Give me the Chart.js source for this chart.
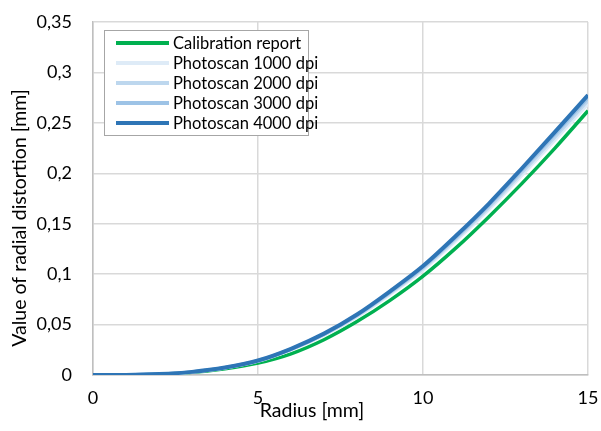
<!DOCTYPE html>
<html>
<head>
<meta charset="utf-8">
<script src="https://cdn.jsdelivr.net/npm/chart.js@4/dist/chart.umd.min.js"></script>
<style>
  html, body { margin: 0; padding: 0; background: #fff; }
  #wrap { width: 601px; height: 431px; }
</style>
</head>
<body>
<div id="wrap"><canvas id="chartDist" width="601" height="431"></canvas></div>
<script>
// radio en mm y distorsión
const radius = [0, 1, 2, 3, 4, 5, 6, 7, 8, 9, 10, 11, 12, 13, 14, 15];
const calibration = [0, 0.0001, 0.0008, 0.0026, 0.0062, 0.0118, 0.021, 0.035, 0.053, 0.074, 0.098, 0.126, 0.157, 0.190, 0.225, 0.262];
const scan1000 = [0, 0.0001, 0.0009, 0.0030, 0.0071, 0.0138, 0.0250, 0.0395, 0.0578, 0.0801, 0.1043, 0.1333, 0.1643, 0.1982, 0.2331, 0.2688];
const scan2000 = [0, 0.0001, 0.0009, 0.0030, 0.0072, 0.0140, 0.0254, 0.0401, 0.0587, 0.0813, 0.1058, 0.1352, 0.1666, 0.2009, 0.2362, 0.2722];
const scan3000 = [0, 0.0001, 0.0009, 0.0031, 0.0073, 0.0142, 0.0257, 0.0406, 0.0594, 0.0822, 0.1070, 0.1367, 0.1684, 0.2031, 0.2388, 0.2750];
const scan4000 = [0, 0.0001, 0.0009, 0.0031, 0.0074, 0.0144, 0.0260, 0.0410, 0.0600, 0.0830, 0.1080, 0.1380, 0.1700, 0.2050, 0.2410, 0.2775];
const yTickLabels = ['0', '0,05', '0,1', '0,15', '0,2', '0,25', '0,3', '0,35'];
const xTickLabels = ['0', '5', '10', '15'];

const FONT = 'Lato, "Open Sans", sans-serif';

const toPoints = (arr) => arr.map((v, i) => ({ x: radius[i], y: v }));

const series = [
    { label: 'Calibration report', data: calibration, color: '#00B050' },
    { label: 'Photoscan 1000 dpi', data: scan1000, color: '#DEEBF7' },
    { label: 'Photoscan 2000 dpi', data: scan2000, color: '#BDD7EE' },
    { label: 'Photoscan 3000 dpi', data: scan3000, color: '#9DC3E6' },
    { label: 'Photoscan 4000 dpi', data: scan4000, color: '#2E75B6' }
];

// leyenda dentro del área del gráfico + títulos de ejes
const boxLegend = {
    id: 'boxLegend',
    afterDraw(chart) {
        const ctx = chart.ctx;
        ctx.save();
        ctx.fillStyle = '#fff';
        ctx.fillRect(104.5, 30.5, 204, 105);
        ctx.strokeStyle = '#a6a6a6';
        ctx.lineWidth = 1;
        ctx.strokeRect(104.5, 30.5, 204, 105);
        ctx.font = '16.5px ' + FONT;
        ctx.textBaseline = 'middle';
        chart.data.datasets.forEach((ds, i) => {
            const y = 43 + i * 20;
            ctx.strokeStyle = ds.borderColor;
            ctx.lineWidth = 4;
            ctx.beginPath();
            ctx.moveTo(116, y);
            ctx.lineTo(169, y);
            ctx.stroke();
            ctx.fillStyle = '#000';
            ctx.fillText(ds.label, 173, y + 1);
        });

        ctx.fillStyle = '#000';
        ctx.font = '19.5px ' + FONT;
        ctx.textAlign = 'center';
        ctx.textBaseline = 'middle';
        ctx.fillText('Radius [mm]', 312, 411);
        ctx.translate(20, 218);
        ctx.rotate(-Math.PI / 2);
        ctx.fillText('Value of radial distortion [mm]', 0, 0);
        ctx.restore();
    }
};

const chartDist = new Chart(document.getElementById('chartDist').getContext('2d'), {
    type: 'line',
    data: {
        datasets: series.map((s, i) => ({
            label: s.label,
            data: toPoints(s.data),
            borderColor: s.color,
            backgroundColor: s.color,
            borderWidth: i === 4 ? 4 : 3.5,
            pointRadius: 0,
            cubicInterpolationMode: 'monotone',
            order: 5 - i
        }))
    },
    options: {
        responsive: false,
        animation: false,
        layout: { padding: { top: 22, right: 13, left: 0, bottom: 0 } },
        plugins: { legend: { display: false }, tooltip: { enabled: false } },
        scales: {
            x: {
                type: 'linear',
                min: 0,
                max: 15,
                afterFit: (s) => { s.height = 56; s.paddingRight = 0; s.paddingLeft = 0; },
                afterBuildTicks: (s) => { s.ticks = xTickLabels.map(Number).map(v => ({ value: v })); },
                ticks: {
                    padding: 12,
                    color: '#000',
                    font: { family: FONT, size: 18 },
                    maxRotation: 0,
                    callback: (v, i) => xTickLabels[i]
                },
                grid: { color: '#d9d9d9', lineWidth: 1.5, drawTicks: false },
                border: { color: '#bfbfbf', width: 1.5 }
            },
            y: {
                min: 0,
                max: 0.35,
                afterFit: (s) => { s.width = 93; s.paddingTop = 0; s.paddingBottom = 0; },
                afterBuildTicks: (s) => { s.ticks = yTickLabels.map((t, i) => ({ value: i * 0.05 })); },
                ticks: {
                    padding: 21,
                    color: '#000',
                    font: { family: FONT, size: 18 },
                    callback: (v, i) => yTickLabels[i]
                },
                grid: { color: '#d9d9d9', lineWidth: 1.5, drawTicks: false },
                border: { color: '#bfbfbf', width: 1.5 }
            }
        }
    },
    plugins: [boxLegend]
});
</script>
</body>
</html>
